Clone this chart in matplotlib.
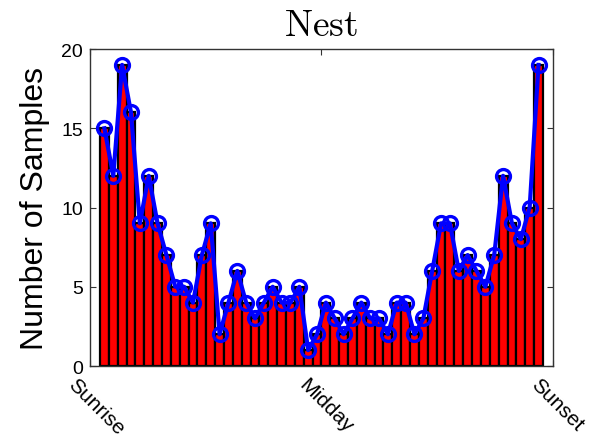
import numpy as np
import matplotlib
matplotlib.use('Agg')
import matplotlib.pyplot as plt

# samples per time bin, sunrise -> sunset
counts = [15, 12, 19, 16, 9, 12, 9, 7, 5, 5, 4, 7, 9, 2, 4, 6, 4,
          3, 4, 5, 4, 4, 5, 1, 2, 4, 3, 2, 3, 4, 3, 3, 2, 4,
          4, 2, 3, 6, 9, 9, 6, 7, 6, 5, 7, 12, 9, 8, 10, 19]
tick_labels = ['Sunrise', 'Midday', 'Sunset']
y_ticks = [0, 5, 10, 15, 20]

plt.rcParams['mathtext.fontset'] = 'cm'

fig = plt.figure(figsize=(5.9, 4.39), dpi=100)
ax = fig.add_axes([0.1525, 0.164, 0.7847, 0.722])

x = np.arange(1, len(counts) + 1)
ax.bar(x, counts, width=1.0, color='#ff0000', edgecolor='black', linewidth=1.6, zorder=2)
ax.plot(x, counts, color='#0000ff', linewidth=3, marker='o', markersize=10,
        markerfacecolor='none', markeredgecolor='#0000ff', markeredgewidth=2.4, zorder=3)

pad = 1.13
lo, hi = x[0] - 0.5 - pad, x[-1] + 0.5 + pad
ticks = [lo, (lo + hi) / 2, hi]
ax.set_xlim(lo, hi)
ax.set_ylim(0, 20)
ax.set_yticks(y_ticks)
ax.set_xticks(ticks)
ax.set_xticklabels(['', '', ''])
for t, lab in zip(ticks, tick_labels):
    ax.annotate(lab, xy=(t, 0), xycoords=('data', 'axes fraction'),
                xytext=(-9, -6), textcoords='offset points',
                rotation=-45, rotation_mode='anchor', ha='left', va='top',
                fontsize=15, fontfamily='Liberation Sans', annotation_clip=False)
for lab in ax.get_yticklabels():
    lab.set_fontsize(14)
    lab.set_fontfamily('Liberation Sans')

ax.tick_params(direction='in', length=4, width=0.8, top=True, right=True, colors='#333333',
               labelcolor='black', pad=5)
for s in ax.spines.values():
    s.set_color('#333333')
    s.set_linewidth(1.0)

ax.set_ylabel('Number of Samples', fontsize=23, fontfamily='Liberation Sans', labelpad=8)
ax.set_title(r'$\mathrm{Nest}$', fontsize=27, pad=10)

fig.savefig('out.png', dpi=100)
